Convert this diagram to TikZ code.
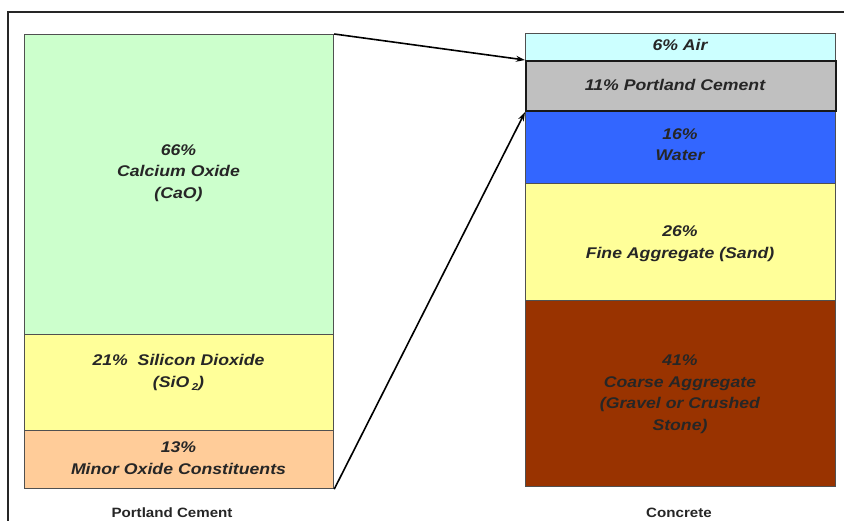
\documentclass[tikz,border=0pt]{standalone}
\usepackage{fontspec}
\setmainfont{Liberation Sans}
\newfontfamily\lblfont[FakeStretch=1.14]{Liberation Sans}
\newfontfamily\capfont[FakeStretch=1.12]{Liberation Sans}
\usetikzlibrary{arrows.meta}
\definecolor{cgreen}{HTML}{CCFFCC}
\definecolor{cyellow}{HTML}{FFFF99}
\definecolor{corange}{HTML}{FFCC99}
\definecolor{cair}{HTML}{CCFFFF}
\definecolor{cgray}{HTML}{C0C0C0}
\definecolor{cblue}{HTML}{3366FF}
\definecolor{cbrown}{HTML}{993300}
\definecolor{cedge}{HTML}{505050}
\begin{document}
\begin{tikzpicture}[x=1pt,y=-1pt,
  layer/.style={draw=cedge,line width=1.2pt,inner sep=0pt,anchor=north west},
  txt/.style={font=\lblfont\bfseries\itshape\fontsize{15.5}{21.5}\selectfont,align=center,inner sep=0pt,text=black!85},
  captxt/.style={font=\capfont\bfseries\fontsize{13.5}{16}\selectfont,inner sep=0pt,text=black!85},
  link/.style={line width=1.6pt,-{Stealth[length=9pt,width=6pt]}}]
\useasboundingbox (0,0) rectangle (844,521);
\fill[white] (0,0) rectangle (844,521);
\draw[line width=2pt,black!85] (8,540) -- (8,12) -- (860,12);
% left column
\node[layer,fill=cgreen,minimum width=309pt,minimum height=300pt] (cao) at (24,34) {};
\node[layer,fill=cyellow,minimum width=309pt,minimum height=96pt] (sio) at (24,334) {};
\node[layer,fill=corange,minimum width=309pt,minimum height=58pt] (minor) at (24,430) {};
% right column
\node[layer,fill=cair,minimum width=310pt,minimum height=27pt] (air) at (525,33) {};
\node[layer,fill=cblue,minimum width=310pt,minimum height=73pt] (water) at (525,110) {};
\node[layer,fill=cyellow,minimum width=310pt,minimum height=117pt] (fine) at (525,183) {};
\node[layer,fill=cbrown,minimum width=310pt,minimum height=186pt] (coarse) at (525,300) {};
\node[layer,draw=black!90,line width=2.2pt,fill=cgray,minimum width=310pt,minimum height=50pt] (pc) at (525,60) {};
% texts
\node[txt] (tcao) at (178.5,173) {66\%\\Calcium Oxide\\(CaO)};
\node[txt] (tsio) at (178.5,372.5) {21\%\ \ Silicon Dioxide\\(SiO\,\raisebox{-0.35ex}{\fontsize{10}{10}\selectfont 2})};
\node[txt] (tminor) at (178.5,458) {13\%\\Minor Oxide Constituents};
\node[txt] (tair) at (680,45) {6\% Air};
\node[txt] (tpc) at (675,84.5) {11\% Portland Cement};
\node[txt] (twater) at (680,144.5) {16\%\\Water};
\node[txt] (tfine) at (680,243.5) {26\%\\Fine Aggregate (Sand)};
\node[txt] (tcoarse) at (680,394) {41\%\\Coarse Aggregate\\(Gravel or Crushed\\Stone)};
\node[captxt] (lpc) at (172,513) {Portland Cement};
\node[captxt] (lcon) at (679,513) {Concrete};
% connectors
\draw[link] (cao.north east) -- (pc.north west);
\draw[link] (minor.south east) -- (pc.south west);
\end{tikzpicture}
\end{document}
